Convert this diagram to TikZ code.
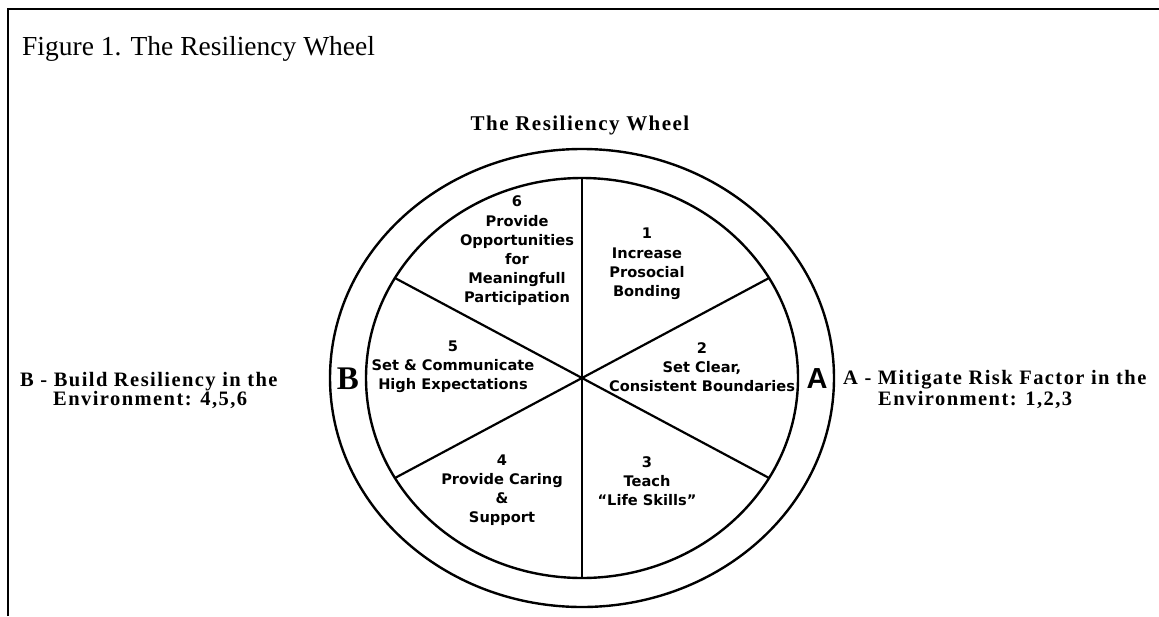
\documentclass[tikz,border=0pt]{standalone}
\usepackage{fontspec}
\setmainfont{Liberation Serif}
\newfontfamily\wheelfont{DejaVu Sans}
\newfontfamily\sidefont[LetterSpace=7]{Liberation Serif}
\newfontfamily\titlefont[LetterSpace=7]{Liberation Serif}
\newfontfamily\bigA{Liberation Sans}
\begin{document}
\begin{tikzpicture}[x=1pt,y=-1pt,
  seg/.style={align=center,font=\wheelfont\bfseries\fontsize{14.6}{19.2}\selectfont,inner sep=0pt},
  side/.style={anchor=base west,font=\sidefont\bfseries\fontsize{20.5}{24}\selectfont,inner sep=0pt},
  rim/.style={line width=2.4pt},
  spoke/.style={line width=2.2pt}]
\useasboundingbox (0,0) rectangle (1159,616);
\fill[white] (0,0) rectangle (1159,616);
% frame
\draw[line width=1.5pt] (8,616) -- (8,9) -- (1159,9);
% caption
\node[anchor=base west,inner sep=0pt,font=\fontsize{27.5}{32}\selectfont] (caption) at (22,55) {Figure 1. The Resiliency Wheel};
% title
\node[inner sep=0pt,font=\titlefont\bfseries\fontsize{21}{25}\selectfont] (title) at (580,125) {The Resiliency Wheel};
% wheel
\coordinate (c) at (582,378);
\draw[rim] (c) ellipse [x radius=252, y radius=229];
\draw[rim] (c) ellipse [x radius=216, y radius=200];
\foreach \a in {30,90,150,210,270,330}
  \draw[spoke] (c) -- ++({216*cos(\a)},{-200*sin(\a)});
% segment texts
\node[seg] (s6) at (517,251) {6\\Provide\\Opportunities\\for\\Meaningfull\\Participation};
\node[seg] (s1) at (647,264) {1\\Increase\\Prosocial\\Bonding};
\node[seg] (s2) at (702,367) {2\\Set Clear,\\Consistent Boundaries};
\node[seg] (s3) at (647,481) {3\\Teach\\“Life Skills”};
\node[seg] (s4) at (502,490) {4\\Provide Caring\\\&\\Support};
\node[seg] (s5) at (453,367) {5\\Set \& Communicate\\High Expectations};
% A and B
\node[inner sep=0pt,font=\bfseries\fontsize{33}{36}\selectfont] (B) at (348,379) {B};
\node[inner sep=0pt,font=\bigA\bfseries\fontsize{29}{32}\selectfont] (A) at (817,379) {A};
% side labels
\node[side] (bl1) at (20,386) {B - Build Resiliency in the};
\node[side] (bl2) at (53,405) {Environment: 4,5,6};
\node[side] (al1) at (843,384) {A - Mitigate Risk Factor in the};
\node[side] (al2) at (878,405) {Environment: 1,2,3};
\end{tikzpicture}
\end{document}
